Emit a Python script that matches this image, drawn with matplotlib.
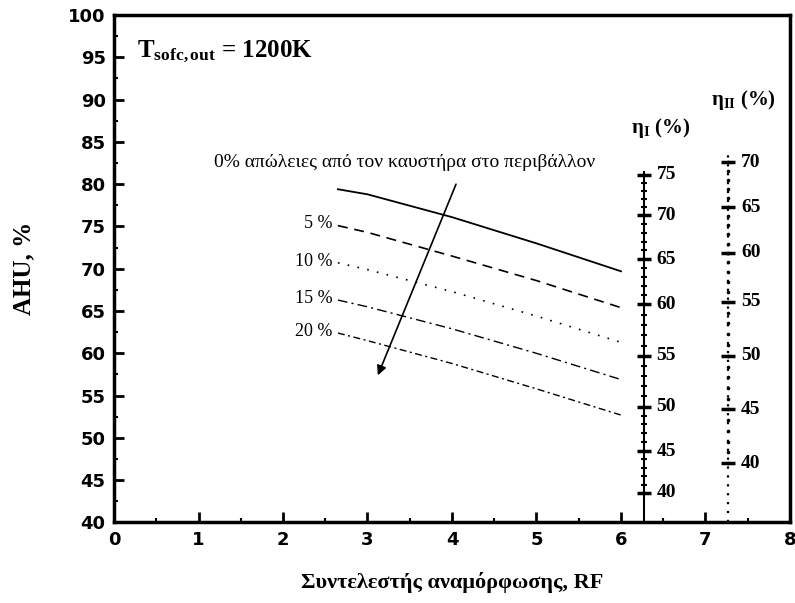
import numpy as np
import matplotlib
matplotlib.use("Agg")
import matplotlib.pyplot as plt

plt.rcParams['mathtext.fontset'] = 'custom'
plt.rcParams['mathtext.rm'] = 'Liberation Serif'
plt.rcParams['mathtext.bf'] = 'Liberation Serif:bold'
plt.rcParams['mathtext.it'] = 'Liberation Serif:italic'

# δεδομένα καμπυλών (RF, AHU %)
rf = [2.65, 3.0, 4.0, 5.0, 6.0]
ahu_0 = [79.4, 78.8, 76.1, 73.0, 69.7]
ahu_5 = [75.1, 74.3, 71.5, 68.6, 65.4]
ahu_10 = [70.7, 69.9, 67.3, 64.4, 61.3]
ahu_15 = [66.3, 65.5, 62.9, 60.0, 56.9]
ahu_20 = [62.4, 61.5, 58.8, 55.8, 52.7]
labels = ['5 %', '10 %', '15 %', '20 %']

# κλίμακες βαθμού απόδοσης (τιμή -> θέση σε μονάδες AHU)
eta1_vals = [40, 45, 50, 55, 60, 65, 70, 75]
eta1_pos = [43.5, 48.45, 53.7, 59.7, 65.8, 71.15, 76.3, 81.1]
eta2_vals = [40, 45, 50, 55, 60, 65, 70]
eta2_pos = [47.0, 53.4, 59.7, 66.1, 71.9, 77.3, 82.6]
eta1_x = 6.27
eta2_x = 7.27

fig = plt.figure(figsize=(7.95, 6.03), dpi=100)
ax = fig.add_axes([0.1434, 0.1335, 0.8503, 0.8416])

ax.plot(rf, ahu_0, color='black', lw=1.3, ls='-')
ax.plot(rf, ahu_5, color='black', lw=1.2, ls=(0, (6, 4)))
ax.plot(rf, ahu_10, color='black', lw=1.2, ls=(0, (1, 5)))
ax.plot(rf, ahu_15, color='black', lw=1.0, ls=(0, (7, 3, 1.5, 3)))
ax.plot(rf, ahu_20, color='black', lw=1.0, ls=(0, (5, 2.5, 1.5, 2.5)))

serif = 'Liberation Serif'
for lab, series in zip(labels, [ahu_5, ahu_10, ahu_15, ahu_20]):
    ax.text(rf[0] - 0.06, series[0] + 0.2, lab, ha='right', va='center',
            fontsize=13, family=serif)

ax.text(3.44, 82.6, '0% απώλειες από τον καυστήρα στο περιβάλλον',
        ha='center', va='center', fontsize=14, family=serif)

# βέλος αύξησης απωλειών
ax.annotate('', xy=(3.11, 57.1), xytext=(4.06, 80.3),
            arrowprops=dict(arrowstyle='-|>', color='black', lw=1.2,
                            mutation_scale=14))

# κλίμακα η_I
minor1 = np.interp(np.arange(40, 76), eta1_vals, eta1_pos)
ax.plot([eta1_x, eta1_x], [40, eta1_pos[-1] + 0.3], color='black', lw=1.5)
ax.plot([eta1_x] * len(minor1), minor1, ls='none', marker='_', ms=4,
        mew=1.5, color='black')
ax.plot([eta1_x] * len(eta1_pos), eta1_pos, ls='none', marker='_', ms=10,
        mew=2.5, color='black')
for v, p in zip(eta1_vals, eta1_pos):
    ax.text(eta1_x + 0.15, p, str(v), ha='left', va='center', fontsize=14,
            family=serif, fontweight='bold')
ax.text(6.47, 86.6, r'$\mathbf{\eta_I}$ (%)', ha='center', va='center',
        fontsize=15, family=serif, fontweight='bold')

# κλίμακα η_II
minor2 = np.interp(np.arange(40, 71), eta2_vals, eta2_pos)
ax.plot([eta2_x, eta2_x], [40, eta2_pos[-1] + 0.8], color='black', lw=1.6,
        ls=(0, (1, 3)))
ax.plot([eta2_x] * len(minor2), minor2, ls='none', marker='o', ms=1.6,
        color='black')
ax.plot([eta2_x] * len(eta2_pos), eta2_pos, ls='none', marker='_', ms=10,
        mew=2.5, color='black')
for v, p in zip(eta2_vals, eta2_pos):
    ax.text(eta2_x + 0.15, p, str(v), ha='left', va='center', fontsize=14,
            family=serif, fontweight='bold')
ax.text(7.45, 90.0, r'$\mathbf{\eta_{II}}$ (%)', ha='center', va='center',
        fontsize=15, family=serif, fontweight='bold')

ax.text(0.27, 95.6, r'$\mathbf{T_{sofc,out}}$ = 1200K', ha='left',
        va='center', fontsize=18, family=serif, fontweight='bold')

ax.set_xlim(0, 8)
ax.set_ylim(40, 100)
ax.set_xticks(range(0, 9))
ax.set_xticks(np.arange(0.5, 8, 1.0), minor=True)
ax.set_yticks(range(40, 101, 5))
ax.set_yticks(np.arange(42.5, 100, 5), minor=True)
ax.tick_params(which='major', direction='in', length=7, width=2,
               labelsize=13, pad=6)
ax.tick_params(which='minor', direction='in', length=3, width=1.5)
for lab in ax.get_xticklabels() + ax.get_yticklabels():
    lab.set_fontweight('bold')
    lab.set_family('DejaVu Sans')
for s in ax.spines.values():
    s.set_linewidth(2.5)

ax.set_xlabel('Συντελεστής αναμόρφωσης, RF', fontsize=16, family=serif,
              fontweight='bold', va='center')
ax.set_ylabel('AHU, %', fontsize=18, family=serif, fontweight='bold',
              va='center')
ax.xaxis.set_label_coords(0.5, -0.119)
ax.yaxis.set_label_coords(-0.133, 0.5)

fig.savefig('out.png', dpi=100)
